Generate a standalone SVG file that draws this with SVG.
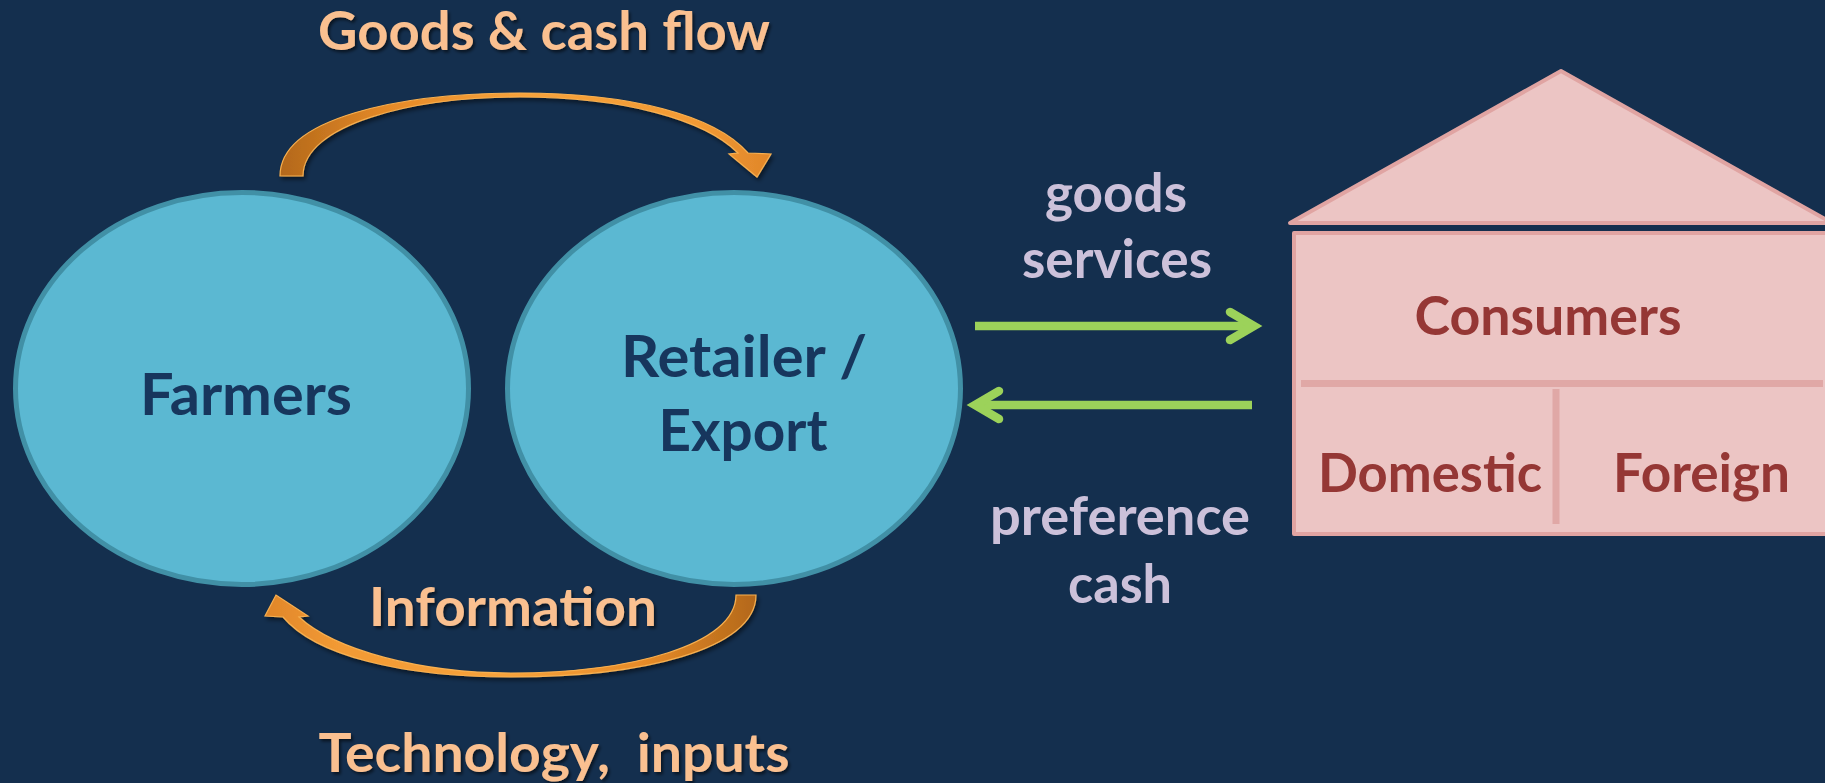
<svg xmlns="http://www.w3.org/2000/svg" width="1825" height="783" viewBox="0 0 1825 783">
  <defs>
    <style>
      text { font-family: Lato, "Open Sans", "Liberation Sans", sans-serif; font-weight: bold; text-anchor: middle; white-space: pre; }
      .hub { fill: #5bb8d2; stroke: #4190a6; stroke-width: 5; }
      .hub-label { fill: #17365d; font-size: 58px; }
      .flow-label { fill: #fac090; font-size: 54px; filter: url(#textShadow); }
      .side-label { fill: #ccc1da; font-size: 54px; }
      .house { fill: #ecc5c4; stroke: #e0a4a2; stroke-width: 4; stroke-linejoin: round; }
      .divider { stroke: #e0a8a6; stroke-width: 7; }
      .house-label { fill: #953735; font-size: 54px; }
      .bend { stroke: #f8b050; stroke-width: 1.2; stroke-linejoin: miter; filter: url(#arrowShadow); }
      .straight { fill: none; stroke: #9cd25a; stroke-width: 8.5; }
      .straight-head { fill: none; stroke: #9cd25a; stroke-width: 8.5; stroke-linecap: round; stroke-linejoin: miter; }
    </style>
    <filter id="textShadow" x="-10%" y="-30%" width="120%" height="160%">
      <feDropShadow dx="2" dy="2.5" stdDeviation="1.5" flood-color="#000000" flood-opacity="0.55"/>
    </filter>
    <filter id="arrowShadow" x="-10%" y="-30%" width="120%" height="160%">
      <feDropShadow dx="2" dy="3" stdDeviation="2" flood-color="#000000" flood-opacity="0.5"/>
    </filter>
    <linearGradient id="bendTop" gradientUnits="userSpaceOnUse" x1="280" y1="0" x2="771" y2="0">
      <stop offset="0" stop-color="#b3681a"/>
      <stop offset="0.22" stop-color="#e58a28"/>
      <stop offset="0.5" stop-color="#f7a23b"/>
      <stop offset="0.85" stop-color="#f29a34"/>
      <stop offset="1" stop-color="#e0862a"/>
    </linearGradient>
    <linearGradient id="bendBottom" gradientUnits="userSpaceOnUse" x1="756" y1="0" x2="265" y2="0">
      <stop offset="0" stop-color="#b3681a"/>
      <stop offset="0.22" stop-color="#e58a28"/>
      <stop offset="0.5" stop-color="#f7a23b"/>
      <stop offset="0.85" stop-color="#f29a34"/>
      <stop offset="1" stop-color="#e0862a"/>
    </linearGradient>
  </defs>

  <!-- backdrop -->
  <rect x="0" y="0" width="1825" height="783" fill="#142f4e"/>

  <!-- flow labels -->
  <text class="flow-label" x="544" y="50" textLength="452" lengthAdjust="spacingAndGlyphs">Goods &amp; cash flow</text>
  <text class="flow-label" x="513" y="626" textLength="288" lengthAdjust="spacingAndGlyphs">Information</text>
  <text class="flow-label" x="554" y="772" textLength="471" lengthAdjust="spacingAndGlyphs">Technology,  inputs</text>

  <text class="side-label" x="1116" y="212" textLength="142" lengthAdjust="spacingAndGlyphs">goods</text>
  <text class="side-label" x="1117" y="278" textLength="190" lengthAdjust="spacingAndGlyphs">services</text>
  <text class="side-label" x="1120" y="535" textLength="260" lengthAdjust="spacingAndGlyphs">preference</text>
  <text class="side-label" x="1120" y="603" textLength="104" lengthAdjust="spacingAndGlyphs">cash</text>

  <!-- nodes -->
  <g id="farmers">
    <ellipse class="hub" cx="242" cy="388.5" rx="226.5" ry="196"/>
    <text class="hub-label" x="246" y="415" textLength="212" lengthAdjust="spacingAndGlyphs">Farmers</text>
  </g>

  <g id="retailer-export">
    <ellipse class="hub" cx="734" cy="388.5" rx="226.5" ry="196"/>
    <text class="hub-label" x="744" y="377" textLength="246" lengthAdjust="spacingAndGlyphs">Retailer /</text>
    <text class="hub-label" x="743" y="451" textLength="169" lengthAdjust="spacingAndGlyphs">Export</text>
  </g>

  <g id="consumers">
    <polygon class="house" points="1290,223 1561,71 1832,223"/>
    <rect class="house" x="1294" y="233" width="540" height="301"/>
    <line class="divider" x1="1301" y1="383.5" x2="1823" y2="383.5"/>
    <line class="divider" x1="1556" y1="389" x2="1556" y2="524"/>
    <text class="house-label" x="1548" y="335" textLength="267" lengthAdjust="spacingAndGlyphs">Consumers</text>
    <text class="house-label" x="1430" y="492" textLength="224" lengthAdjust="spacingAndGlyphs">Domestic</text>
    <text class="house-label" x="1701.5" y="492" textLength="177" lengthAdjust="spacingAndGlyphs">Foreign</text>
  </g>

  <!-- connectors -->
  <g id="connectors">
    <!-- farmers to retailer: goods and cash -->
    <path class="bend" fill="url(#bendTop)" d="M 280,176 C 280,118 400,93 520,93 C 630,93 715,115 748,153 L 771,154 L 757,177 L 729,154 L 738,153 C 705,120 625,97 520,97 C 410,97 303,125 303,176 Z"/>
    <!-- retailer back to farmers: information -->
    <path class="bend" fill="url(#bendBottom)" d="M 756,595 C 756,650 640,677 511,677 C 400,677 315,655 283,617 L 265,616 L 276,595 L 308,616 L 299,617 C 335,650 420,673 511,673 C 630,673 736,645 736,595 Z"/>

    <!-- retailer to consumers -->
    <line class="straight" x1="975" y1="326" x2="1250" y2="326"/>
    <polyline class="straight-head" points="1230,312 1254,326 1230,340"/>
    <!-- consumers to retailer -->
    <line class="straight" x1="1252" y1="405" x2="977" y2="405"/>
    <polyline class="straight-head" points="999,391 975,405 999,419"/>
  </g>
</svg>
